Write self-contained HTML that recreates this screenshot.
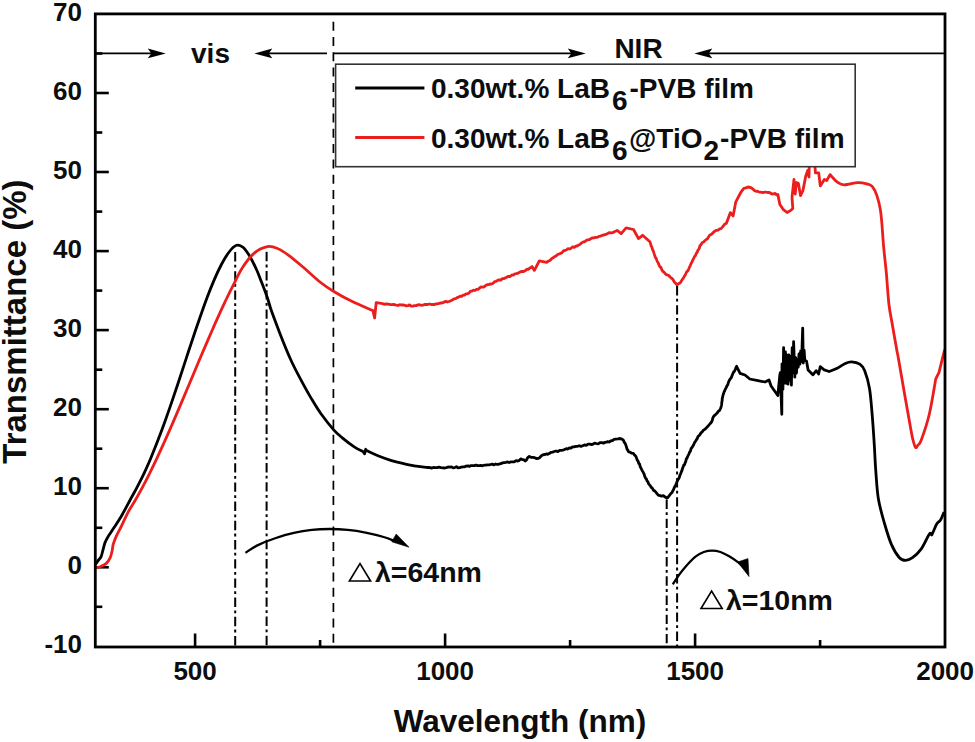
<!DOCTYPE html>
<html><head><meta charset="utf-8"><style>
html,body{margin:0;padding:0;background:#fff;width:975px;height:742px;overflow:hidden}
svg{display:block}
text{font-family:"Liberation Sans", sans-serif;font-weight:bold;fill:#0d0d0d}
.t{font-size:26px}
</style></head><body>
<svg width="975" height="742" viewBox="0 0 975 742">
<line x1="95.3" y1="606.8" x2="102.3" y2="606.8" stroke="#000" stroke-width="2.6"/>
<line x1="95.3" y1="567.3" x2="108.8" y2="567.3" stroke="#000" stroke-width="2.6"/>
<line x1="95.3" y1="527.8" x2="102.3" y2="527.8" stroke="#000" stroke-width="2.6"/>
<line x1="95.3" y1="488.2" x2="108.8" y2="488.2" stroke="#000" stroke-width="2.6"/>
<line x1="95.3" y1="448.7" x2="102.3" y2="448.7" stroke="#000" stroke-width="2.6"/>
<line x1="95.3" y1="409.2" x2="108.8" y2="409.2" stroke="#000" stroke-width="2.6"/>
<line x1="95.3" y1="369.7" x2="102.3" y2="369.7" stroke="#000" stroke-width="2.6"/>
<line x1="95.3" y1="330.1" x2="108.8" y2="330.1" stroke="#000" stroke-width="2.6"/>
<line x1="95.3" y1="290.6" x2="102.3" y2="290.6" stroke="#000" stroke-width="2.6"/>
<line x1="95.3" y1="251.1" x2="108.8" y2="251.1" stroke="#000" stroke-width="2.6"/>
<line x1="95.3" y1="211.6" x2="102.3" y2="211.6" stroke="#000" stroke-width="2.6"/>
<line x1="95.3" y1="172.0" x2="108.8" y2="172.0" stroke="#000" stroke-width="2.6"/>
<line x1="95.3" y1="132.5" x2="102.3" y2="132.5" stroke="#000" stroke-width="2.6"/>
<line x1="95.3" y1="93.0" x2="108.8" y2="93.0" stroke="#000" stroke-width="2.6"/>
<line x1="95.3" y1="53.5" x2="102.3" y2="53.5" stroke="#000" stroke-width="2.6"/>
<line x1="195.1" y1="647.0" x2="195.1" y2="633.5" stroke="#000" stroke-width="2.6"/>
<line x1="320.1" y1="647.0" x2="320.1" y2="640.0" stroke="#000" stroke-width="2.6"/>
<line x1="445.1" y1="647.0" x2="445.1" y2="633.5" stroke="#000" stroke-width="2.6"/>
<line x1="570.1" y1="647.0" x2="570.1" y2="640.0" stroke="#000" stroke-width="2.6"/>
<line x1="695.1" y1="647.0" x2="695.1" y2="633.5" stroke="#000" stroke-width="2.6"/>
<line x1="820.1" y1="647.0" x2="820.1" y2="640.0" stroke="#000" stroke-width="2.6"/>
<text x="82" y="653.1" text-anchor="end" class="t">-10</text>
<text x="82" y="574.1" text-anchor="end" class="t">0</text>
<text x="82" y="495.0" text-anchor="end" class="t">10</text>
<text x="82" y="416.0" text-anchor="end" class="t">20</text>
<text x="82" y="336.9" text-anchor="end" class="t">30</text>
<text x="82" y="257.9" text-anchor="end" class="t">40</text>
<text x="82" y="178.8" text-anchor="end" class="t">50</text>
<text x="82" y="99.8" text-anchor="end" class="t">60</text>
<text x="82" y="20.7" text-anchor="end" class="t">70</text>
<text x="195.1" y="680" text-anchor="middle" class="t">500</text>
<text x="445.1" y="680" text-anchor="middle" class="t">1000</text>
<text x="695.1" y="680" text-anchor="middle" class="t">1500</text>
<text x="945.1" y="680" text-anchor="middle" class="t">2000</text>
<text x="520" y="731.5" text-anchor="middle" style="font-size:31.5px">Wavelength (nm)</text>
<text transform="translate(26.3,463.7) rotate(-90)" x="0" y="0" style="font-size:33px">Transmittance (%)</text>
<line x1="333.4" y1="21.7" x2="333.4" y2="644" stroke="#000" stroke-width="1.7" stroke-dasharray="9,6.3"/>
<line x1="235.2" y1="252" x2="235.2" y2="646.0" stroke="#000" stroke-width="2" stroke-dasharray="9.4,3.4,2.8,3.6"/>
<line x1="266.6" y1="251.8" x2="266.6" y2="646.0" stroke="#000" stroke-width="2" stroke-dasharray="9.4,3.4,2.8,3.6"/>
<line x1="666.7" y1="499.5" x2="666.7" y2="646.0" stroke="#000" stroke-width="2" stroke-dasharray="9.4,3.4,2.8,3.6"/>
<line x1="677.1" y1="286" x2="677.1" y2="646.0" stroke="#000" stroke-width="2" stroke-dasharray="9.4,3.4,2.8,3.6"/>
<line x1="95.3" y1="53.4" x2="152" y2="53.4" stroke="#000" stroke-width="1.7"/>
<path d="M165.8,53.4 L147.8,48.6 L151.3,53.4 L147.8,58.199999999999996 Z" fill="#000"/>
<line x1="267" y1="53.4" x2="327" y2="53.4" stroke="#000" stroke-width="1.7"/>
<path d="M254.3,53.4 L272.3,48.6 L268.8,53.4 L272.3,58.199999999999996 Z" fill="#000"/>
<line x1="333.4" y1="53.4" x2="572" y2="53.4" stroke="#000" stroke-width="1.7"/>
<path d="M585.8,53.4 L567.8,48.6 L571.3,53.4 L567.8,58.199999999999996 Z" fill="#000"/>
<line x1="707" y1="53.4" x2="945.0" y2="53.4" stroke="#000" stroke-width="1.7"/>
<path d="M694.3,53.4 L712.3,48.6 L708.8,53.4 L712.3,58.199999999999996 Z" fill="#000"/>
<text x="210.5" y="62.7" text-anchor="middle" style="font-size:28px">vis</text>
<text x="638.5" y="57.8" text-anchor="middle" style="font-size:28px">NIR</text>
<path d="M95.5,564.6 C95.9,563.9 97.2,561.9 98.1,560.6 C99.0,559.3 100.3,558.5 101.1,556.6 C101.9,554.8 102.4,551.9 103.1,549.5 C103.8,547.1 104.2,544.6 105.1,542.4 C105.9,540.2 106.7,538.9 108.2,536.4 C109.7,533.9 112.0,530.7 114.2,527.3 C116.4,523.9 118.6,520.8 121.3,516.2 C124.0,511.6 127.7,504.4 130.4,499.5 C133.1,494.6 135.1,491.1 137.4,486.6 C139.7,482.1 142.1,477.6 144.4,472.6 C146.7,467.6 149.1,462.3 151.4,456.7 C153.7,451.1 156.1,445.2 158.4,439.1 C160.7,433.0 163.1,426.7 165.4,420.2 C167.7,413.7 170.1,406.9 172.4,400.1 C174.7,393.3 177.1,386.2 179.4,379.2 C181.7,372.2 184.1,365.0 186.4,357.9 C188.7,350.8 191.1,343.6 193.4,336.7 C195.7,329.8 198.1,322.8 200.4,316.2 C202.7,309.6 205.1,302.9 207.4,296.8 C209.7,290.7 212.1,284.8 214.4,279.4 C216.7,274.0 219.0,269.1 221.4,264.5 C223.8,259.9 226.6,255.2 229.1,252.0 C231.6,248.8 234.2,246.1 236.5,245.3 C238.8,244.5 240.8,245.4 243.0,247.3 C245.2,249.2 247.7,252.9 250.0,256.7 C252.3,260.5 254.7,265.6 256.7,270.0 C258.7,274.4 260.2,278.7 262.0,283.3 C263.8,287.9 265.7,292.9 267.3,297.5 C268.9,302.1 269.3,304.9 271.5,311.0 C273.7,317.1 277.2,326.4 280.3,334.4 C283.4,342.3 287.0,351.3 290.3,358.7 C293.6,366.1 297.0,372.5 300.4,378.9 C303.8,385.3 307.1,391.4 310.5,397.1 C313.9,402.8 316.7,407.8 320.6,413.2 C324.5,418.6 330.1,425.7 333.7,429.8 C337.3,433.9 338.8,434.9 342.3,437.8 C345.8,440.7 351.1,444.8 354.6,447.1 C358.1,449.4 361.8,451.0 363.2,451.8 L364.5,453.8 L365.7,449.3 L366.9,450.8 C368.9,451.7 375.1,454.7 379.2,456.3 C383.3,457.9 387.4,459.4 391.5,460.6 C395.6,461.8 399.7,462.8 403.8,463.7 C407.9,464.6 412.2,465.6 416.2,466.2 C420.2,466.8 425.8,467.3 427.7,467.5 L428.7,467.4 L430.0,467.6 L431.5,468.1 L433.2,467.5 L435.1,467.6 L437.0,467.7 L439.0,467.2 L441.0,467.7 L442.9,467.8 L444.7,468.0 L446.4,467.6 L448.1,467.0 L449.8,467.2 L451.5,466.9 L453.1,467.8 L454.7,467.6 L456.4,466.6 L458.0,467.8 L459.6,467.7 L461.2,467.1 L462.8,466.8 L464.4,466.9 L466.1,466.1 L467.7,465.8 L469.4,466.4 L471.0,465.6 L472.6,465.7 L474.3,465.6 L475.9,465.2 L477.6,465.7 L479.2,465.6 L480.8,465.4 L482.5,465.8 L484.1,465.2 L485.8,465.2 L487.4,464.9 L489.0,464.9 L490.7,464.5 L492.3,464.1 L494.0,464.9 L495.6,464.0 L497.3,464.5 L499.0,464.1 L500.7,463.7 L502.5,462.9 L504.2,462.6 L505.9,462.4 L507.6,461.9 L509.1,462.6 L510.6,461.9 L512.0,461.8 L514.1,461.9 L516.0,460.7 L517.8,461.0 L519.3,460.4 L520.7,458.9 L521.9,459.4 L523.9,459.9 L525.2,461.0 L526.4,460.2 L527.7,457.6 L529.3,456.4 L530.9,457.3 L532.7,457.3 L534.7,457.7 L536.7,458.6 L538.2,458.4 L539.5,457.8 L541.0,456.1 L542.7,454.8 L544.9,454.5 L546.2,453.9 L547.7,454.3 L549.2,453.6 L550.9,452.3 L552.6,452.1 L554.3,451.5 L556.1,451.0 L557.9,451.6 L559.6,450.4 L561.3,450.4 L562.9,450.1 L564.5,449.5 L566.2,448.7 L567.8,449.0 L569.4,447.8 L571.0,448.0 L572.6,446.9 L574.3,446.9 L576.0,446.3 L577.7,446.3 L579.3,445.7 L581.0,446.4 L582.7,445.8 L584.5,444.9 L586.3,445.4 L588.1,444.2 L589.8,444.2 L591.5,444.6 L593.1,444.1 L594.7,443.1 L596.2,443.5 L598.1,443.9 L600.0,442.7 L601.7,442.6 L603.4,443.1 L605.0,442.4 L606.5,442.2 L607.8,441.6 L609.1,442.0 L611.2,440.7 L612.8,440.6 L614.1,439.3 L615.6,439.1 L617.9,438.9 L620.1,438.5 L622.0,439.1 L623.3,440.1 L624.3,442.4 L625.3,443.7 L625.9,445.2 L626.5,447.1 L627.1,449.4 L627.8,450.1 L628.5,451.8 L630.0,452.1 L631.7,453.2 L633.4,453.4 L634.3,454.9 L635.2,455.5 L636.2,457.1 L637.1,459.7 L638.2,461.5 L638.8,463.5 L639.5,463.9 L640.2,466.6 L641.0,468.2 L641.7,469.6 L642.5,471.1 L643.2,472.3 L644.0,473.8 L644.7,476.0 L645.5,478.2 L646.3,478.8 L647.1,480.9 L647.9,481.7 L648.7,483.9 L649.5,484.9 L650.3,485.8 L651.2,487.3 L652.3,488.2 L653.5,490.4 L654.7,490.8 L656.0,492.3 L657.2,493.8 L658.2,495.2 L659.2,495.4 L661.6,496.1 L663.3,495.7 L664.8,496.8 L666.5,497.8 L667.7,497.8 L669.1,495.8 L670.6,493.9 L672.2,492.2 L672.8,490.8 L673.5,489.7 L674.2,487.8 L674.9,486.4 L675.6,485.1 L676.3,483.7 L677.1,481.4 L677.8,480.0 L678.5,479.0 L679.3,477.4 L680.0,475.0 L680.6,473.8 L681.2,472.3 L681.9,470.6 L682.5,468.5 L683.2,466.7 L683.8,465.1 L684.5,464.8 L685.1,462.9 L685.7,461.7 L686.3,458.9 L686.9,458.4 L687.5,456.8 L688.1,455.5 L688.9,454.1 L689.7,451.9 L690.4,451.3 L691.1,448.5 L691.8,447.8 L692.5,446.7 L693.2,445.6 L693.9,444.1 L694.6,442.5 L695.5,441.2 L696.3,439.9 L697.2,438.7 L698.0,436.6 L698.9,435.7 L699.9,434.7 L701.0,432.8 L702.1,432.1 L703.3,430.2 L704.7,429.5 L706.0,428.3 L707.4,426.7 L708.6,425.5 L709.8,424.0 L710.7,423.1 L711.7,421.6 L712.3,420.2 L712.8,418.0 L713.2,417.4 L714.0,415.8 L714.9,415.3 L716.1,414.1 L717.3,412.8 L718.5,411.2 L719.6,410.4 L720.5,408.5 L721.0,407.2 L721.4,405.5 L721.6,404.4 L721.9,401.6 L722.1,400.8 L722.3,398.1 L722.6,397.2 L722.9,395.6 L723.5,393.8 L724.1,391.8 L724.7,390.8 L725.4,389.0 L726.2,387.6 L726.9,385.9 L727.7,384.9 L728.5,382.3 L729.3,380.4 L730.1,379.2 L731.0,378.1 L731.8,376.2 L732.7,374.0 L733.6,372.1 L734.5,371.2 L735.4,369.1 L736.1,367.3 L736.6,366.3 L740.1,373.4 L745.0,375.0 L749.8,379.0 L757.9,380.6 L765.0,382.0 L769.0,380.0 L771.1,386.0 L777.8,395.5 L779.8,375.3 L780.3,372.7 L781.1,396.0 L781.8,414.3 L782.0,363.8 L782.9,389.3 L783.6,347.6 L783.7,355.7 L784.6,383.1 L785.4,351.9 L786.3,383.3 L787.1,355.2 L788.0,384.2 L788.8,355.0 L789.7,380.3 L790.5,356.7 L791.4,385.2 L792.2,347.7 L793.1,372.5 L793.6,341.6 L793.9,350.0 L794.8,377.2 L795.6,357.7 L796.5,373.0 L797.3,359.6 L798.2,367.1 L799.0,354.0 L799.9,364.1 L800.7,350.8 L801.6,361.5 L802.4,336.9 L802.7,328.1 L803.3,363.0 L804.1,350.2 L804.8,360.4 L806.5,361.0 L808.1,369.9 L812.9,374.8 L816.2,370.7 L818.6,374.0 L820.2,366.7 L824.2,369.9 L829.1,371.5 C830.5,371.0 834.5,369.7 837.2,368.3 C839.9,366.9 842.9,364.5 845.3,363.4 C847.7,362.3 849.3,361.7 851.7,361.8 C854.1,361.9 857.6,362.7 859.8,364.2 C862.0,365.7 863.1,366.6 864.7,370.7 C866.3,374.8 868.3,381.5 869.5,388.5 C870.7,395.5 871.2,403.3 872.0,412.7 C872.8,422.1 873.7,435.3 874.3,445.0 C874.9,454.7 875.1,462.0 875.8,471.0 C876.5,480.0 876.9,490.2 878.4,499.0 C879.9,507.8 882.3,515.9 884.5,523.5 C886.7,531.1 889.0,538.9 891.5,544.6 C894.0,550.3 897.1,555.1 899.4,557.7 C901.7,560.3 903.3,560.3 905.5,560.3 C907.7,560.3 909.9,559.6 912.5,557.7 C915.1,555.8 918.7,552.5 921.3,548.9 C923.9,545.2 927.1,538.0 928.3,535.8 L930.0,533.2 L931.8,534.9 L934.0,530.0 C934.5,528.9 935.9,525.2 937.0,523.5 C938.1,521.8 939.3,521.9 940.5,520.0 C941.7,518.1 943.4,513.5 944.0,512.2" fill="none" stroke="#000" stroke-width="2.8" stroke-linejoin="round"/>
<path d="M95.0,567.7 C95.8,567.5 98.2,567.4 100.1,566.7 C101.9,566.0 104.4,565.1 106.1,563.6 C107.8,562.1 109.2,559.8 110.2,557.6 C111.2,555.4 111.7,552.7 112.2,550.5 C112.7,548.3 112.5,546.8 113.2,544.4 C113.9,542.0 114.9,539.4 116.2,536.4 C117.5,533.4 119.3,530.4 121.3,526.3 C123.3,522.2 126.1,516.0 128.4,511.6 C130.8,507.2 133.1,504.0 135.4,500.0 C137.7,496.0 140.1,491.8 142.4,487.4 C144.7,483.0 147.1,478.5 149.4,473.8 C151.7,469.1 154.1,464.2 156.4,459.3 C158.7,454.4 161.1,449.2 163.4,444.1 C165.7,439.0 168.1,433.7 170.4,428.4 C172.7,423.1 175.1,417.6 177.4,412.1 C179.7,406.6 182.1,401.1 184.4,395.6 C186.7,390.1 189.1,384.6 191.4,379.0 C193.7,373.4 196.1,367.8 198.4,362.3 C200.7,356.8 203.1,351.3 205.4,345.9 C207.7,340.5 210.1,335.0 212.4,329.7 C214.7,324.4 217.1,319.1 219.4,314.0 C221.7,308.9 224.1,303.9 226.4,299.0 C228.7,294.1 230.7,290.0 233.4,284.8 C236.1,279.6 239.0,272.9 242.4,267.7 C245.8,262.4 249.8,256.8 254.0,253.3 C258.1,249.8 263.3,247.4 267.3,246.6 C271.3,245.8 274.4,247.2 278.0,248.7 C281.6,250.1 284.5,252.2 288.7,255.3 C292.9,258.4 298.1,262.9 303.3,267.3 C308.5,271.8 315.0,278.0 320.0,282.0 C325.0,286.0 327.9,287.9 333.4,291.2 C338.9,294.5 346.2,298.6 352.8,301.8 C359.4,305.0 369.6,309.1 373.0,310.6 L374.6,318.0 L376.2,302.6 L380.0,303.2 L381.1,303.3 L382.5,303.6 L384.3,304.3 L386.2,303.9 L388.1,304.2 L390.1,304.5 L392.0,304.6 L393.5,304.3 L395.1,304.9 L396.6,305.2 L398.1,305.5 L399.7,304.6 L401.4,305.0 L403.1,304.8 L405.0,305.4 L406.4,305.9 L408.0,305.7 L409.5,304.8 L411.2,306.1 L412.8,306.1 L414.5,305.7 L416.2,305.6 L417.9,304.9 L419.6,304.7 L421.2,305.3 L422.8,305.2 L424.5,304.5 L426.2,304.5 L427.8,304.5 L429.5,304.0 L431.1,304.5 L432.7,304.3 L434.3,304.6 L435.9,303.9 L437.6,303.8 L439.2,303.3 L440.8,303.0 L442.5,302.8 L444.1,302.1 L445.8,301.4 L447.4,302.0 L449.0,301.5 L450.7,300.8 L452.3,300.0 L454.0,298.9 L455.6,298.6 L457.1,297.6 L458.6,297.1 L460.1,296.2 L461.6,296.4 L463.0,295.2 L464.5,295.1 L466.0,293.8 L467.5,293.9 L469.0,293.0 L470.5,291.1 L472.0,291.2 L473.5,290.2 L475.0,290.5 L476.5,289.3 L478.0,289.4 L479.5,288.0 L481.0,287.0 L482.5,287.2 L484.0,286.8 L485.5,285.6 L487.0,284.7 L488.5,284.7 L490.0,283.9 L491.5,284.1 L493.1,283.2 L494.6,281.7 L496.1,281.3 L497.7,280.4 L499.2,279.8 L500.7,280.2 L502.1,278.7 L503.5,278.7 L504.9,278.1 L506.7,277.3 L508.4,276.3 L510.1,276.5 L511.8,275.0 L513.3,275.2 L514.9,273.8 L516.5,273.7 L518.0,273.2 L519.8,272.1 L521.7,271.3 L523.6,271.5 L525.5,270.5 L527.1,269.1 L528.5,269.3 L529.5,268.3 L532.0,266.6 L534.4,270.4 L539.3,260.9 L546.6,262.4 L547.5,261.7 L548.6,261.0 L550.0,260.5 L551.5,258.8 L553.1,257.7 L554.8,256.6 L556.1,255.9 L557.5,254.5 L558.9,254.1 L560.4,253.4 L562.0,252.7 L563.5,250.9 L564.9,250.4 L566.3,250.0 L568.0,248.6 L569.6,249.0 L571.1,248.3 L572.7,246.8 L574.3,247.4 L576.1,246.0 L577.4,246.0 L578.8,244.9 L580.2,244.2 L581.7,242.8 L583.2,241.8 L584.7,241.8 L586.2,240.4 L587.7,239.9 L589.2,239.7 L590.8,238.7 L592.5,237.8 L594.1,237.9 L595.7,237.3 L597.3,237.4 L599.0,236.4 L600.7,236.1 L602.4,235.3 L604.0,234.8 L605.8,234.4 L607.7,233.5 L609.6,232.6 L611.5,233.0 L613.2,232.4 L614.8,231.6 L616.1,231.0 L617.1,230.4 L621.2,233.6 L626.1,227.9 L633.5,229.5 L638.5,238.6 L642.6,235.3 L649.9,241.8 L650.2,242.6 L650.6,243.9 L651.1,245.8 L651.6,246.6 L652.2,248.3 L652.8,250.2 L653.5,251.4 L654.1,253.6 L654.8,255.6 L655.4,257.5 L656.1,258.2 L656.7,259.9 L657.3,261.5 L658.2,262.8 L659.2,265.5 L660.1,267.0 L661.0,267.5 L662.0,270.2 L662.9,271.4 L663.8,272.1 L664.7,273.0 L666.1,274.6 L667.5,274.9 L668.8,275.5 L670.1,277.0 L671.3,278.0 L672.4,278.8 L673.5,280.6 L674.5,282.3 L675.6,283.3 L676.7,284.5 L677.8,284.3 L678.9,283.5 L680.1,282.9 L681.4,280.9 L682.8,278.8 L683.5,277.9 L684.3,276.4 L685.1,275.3 L685.9,273.5 L686.8,271.6 L687.7,271.0 L688.6,269.3 L689.4,267.4 L690.3,265.5 L691.2,263.3 L692.0,262.0 L692.8,260.0 L693.7,258.5 L694.5,256.5 L695.4,255.7 L696.2,253.5 L697.1,252.4 L697.9,250.2 L698.7,249.5 L699.4,247.9 L700.1,245.4 L700.8,245.0 L702.3,242.5 L703.6,242.2 L704.8,240.7 L706.2,239.5 L707.3,239.0 L708.6,236.8 L709.9,235.0 L711.3,234.4 L712.5,233.4 L713.6,232.1 L715.2,230.9 L716.6,230.3 L718.3,230.1 L719.5,228.9 L721.0,228.6 L722.6,226.9 L724.2,224.7 L725.5,223.7 L726.4,223.3 L730.4,212.6 L733.1,215.9 L735.8,201.8 L740.5,193.0 L741.4,191.6 L742.6,189.9 L743.9,188.3 L745.9,187.9 L748.0,187.0 L750.0,187.3 L752.0,188.3 L753.2,189.3 L754.4,190.5 L756.0,191.3 L757.3,191.2 L758.7,191.8 L760.3,192.1 L762.1,192.5 L764.1,192.3 L765.6,192.0 L767.5,192.5 L769.4,192.5 L771.5,193.8 L773.4,194.0 L775.2,193.4 L776.7,194.9 L777.8,194.4 L779.9,204.5 L783.1,209.3 L787.1,212.5 L791.2,210.1 L792.8,208.5 L792.0,197.2 L794.0,179.4 L795.2,194.0 L796.4,182.6 L798.4,183.4 L800.5,195.6 L802.9,190.7 L805.7,176.2 L807.7,170.5 L809.0,177.0 L809.4,160.0 L814.6,160.0 L815.4,172.9 L818.7,172.9 L820.3,185.9 L824.3,179.4 L826.7,180.6 L830.0,174.6 C831.2,175.8 835.0,180.4 837.4,182.1 C839.8,183.8 840.8,184.8 844.2,184.9 C847.6,185.0 854.0,182.8 857.7,182.6 C861.5,182.4 864.2,183.1 866.7,183.8 C869.2,184.5 870.7,184.6 872.4,186.6 C874.1,188.6 875.6,191.8 876.9,195.6 C878.2,199.4 879.4,204.3 880.3,209.2 C881.1,214.1 881.5,218.8 882.0,225.0 C882.5,231.2 882.9,238.4 883.6,246.3 C884.3,254.2 885.4,262.9 886.3,272.5 C887.2,282.1 887.9,295.2 888.9,304.0 C889.9,312.8 891.1,317.3 892.4,325.0 C893.7,332.7 895.8,344.3 896.8,350.0 C897.8,355.7 897.2,351.6 898.6,359.4 C900.0,367.2 903.1,385.8 905.0,396.6 C906.9,407.4 908.6,416.8 909.9,424.0 C911.2,431.2 912.0,436.1 913.0,440.0 C914.0,443.9 914.8,446.7 915.6,447.5 C916.4,448.3 917.1,446.2 918.0,445.0 C918.9,443.8 919.3,445.3 921.2,440.2 C923.1,435.1 926.9,424.5 929.3,414.3 C931.7,404.1 934.7,384.7 935.8,378.8 L939.0,372.3 L942.2,359.4 L944.7,349.7" fill="none" stroke="#ec1d1d" stroke-width="2.8" stroke-linejoin="round"/>
<rect x="335.6" y="64.2" width="519.6" height="102.5" fill="#fff" stroke="#333" stroke-width="1.6"/>
<line x1="355.2" y1="87.9" x2="424.4" y2="87.9" stroke="#000" stroke-width="3"/>
<line x1="355.2" y1="137.4" x2="424.4" y2="137.4" stroke="#ec1d1d" stroke-width="3"/>
<text x="431" y="98" style="font-size:28px">0.30wt.% LaB<tspan dy="12" dx="2">6</tspan><tspan dy="-12" dx="2">-PVB film</tspan></text>
<text x="431" y="147.7" style="font-size:28px">0.30wt.% LaB<tspan dy="12" dx="2">6</tspan><tspan dy="-12" dx="1.5">@TiO</tspan><tspan dy="12" dx="1">2</tspan><tspan dy="-12" dx="1">-PVB film</tspan></text>
<rect x="95.3" y="13.9" width="849.7" height="633.1" fill="none" stroke="#000" stroke-width="2.8"/>
<path d="M245.4,552.8 C247.5,551.5 252.9,547.6 258.0,545.1 C263.1,542.6 269.9,540.0 275.9,538.0 C281.9,536.0 287.8,534.2 293.8,532.9 C299.8,531.5 305.8,530.5 311.8,529.9 C317.8,529.2 323.7,529.0 329.7,529.0 C335.7,529.0 341.7,529.3 347.7,529.9 C353.7,530.5 359.6,531.4 365.6,532.6 C371.6,533.8 378.5,535.5 383.6,537.0 C388.7,538.5 393.9,540.8 396.0,541.5" fill="none" stroke="#000" stroke-width="2.3"/>
<path d="M409,547.2 L396.2,534 L391.8,541.8 Z" fill="#000" stroke="#000" stroke-width="0.6" stroke-linejoin="round"/>
<path d="M349.4,581 L360,563.5 L370.6,581 Z" fill="none" stroke="#000" stroke-width="1.6"/>
<text x="375" y="582" style="font-size:28.5px">λ=64nm</text>
<path d="M672.8,584.3 C673.8,582.8 676.7,578.2 678.9,575.1 C681.1,572.0 683.4,569.0 686.2,565.9 C689.0,562.8 692.6,558.9 695.5,556.6 C698.4,554.3 701.0,553.0 703.8,552.0 C706.6,551.0 709.3,550.6 712.1,550.6 C714.9,550.6 717.5,551.0 720.4,552.0 C723.3,553.0 726.7,554.9 729.6,556.6 C732.5,558.3 735.8,560.6 737.9,562.2 C740.0,563.8 741.7,565.4 742.5,566.0" fill="none" stroke="#000" stroke-width="2.3"/>
<path d="M749,576.5 L737.6,562 L748,558.6 Z" fill="#000" stroke="#000" stroke-width="0.6" stroke-linejoin="round"/>
<path d="M701,608.5 L711.6,591 L722.2,608.5 Z" fill="none" stroke="#000" stroke-width="1.6"/>
<text x="726" y="609.5" style="font-size:28.5px">λ=10nm</text>
</svg></body></html>
